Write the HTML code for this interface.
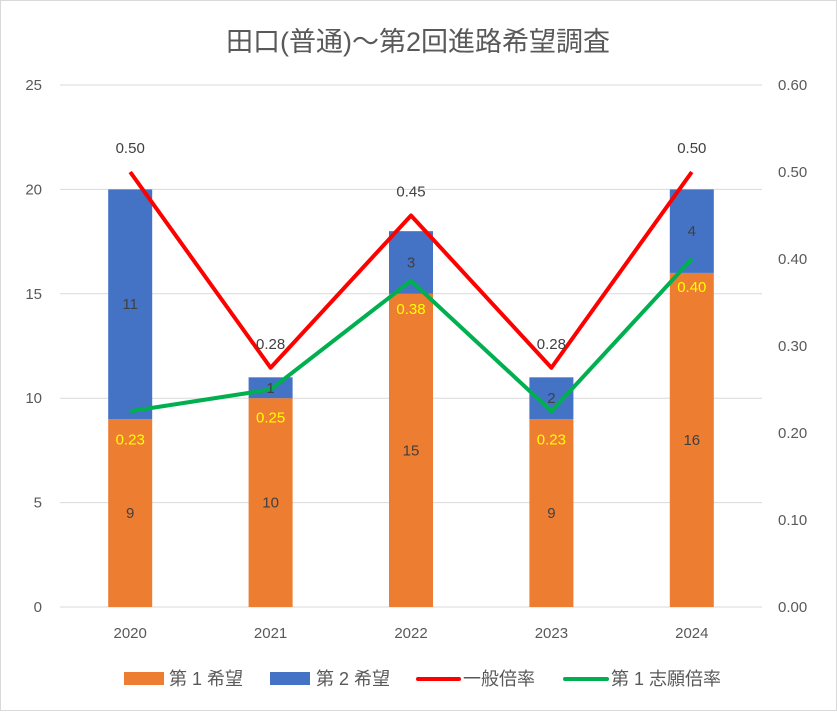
<!DOCTYPE html>
<html><head><meta charset="utf-8"><style>
body{margin:0;background:#fff;}
svg text{font-family:"Liberation Sans","Noto Sans CJK JP",sans-serif;}
</style></head><body>
<svg id="c" width="837" height="711" xmlns="http://www.w3.org/2000/svg">
<rect x="0.5" y="0.5" width="836" height="710" fill="#fff" stroke="#d9d9d9"/>
<text x="418" y="51" text-anchor="middle" font-size="27" fill="#595959">田口(普通)～第2回進路希望調査</text>
<g id="grid"></g><g id="bars"></g><g id="lines"></g><g id="labels"></g><g id="axes"></g>
<g>
<rect x="124" y="672" width="40" height="13" fill="#ed7d31"/>
<text x="169" y="685" font-size="18" fill="#595959">第 1 希望</text>
<rect x="270" y="672" width="40" height="13" fill="#4472c4"/>
<text x="316" y="685" font-size="18" fill="#595959">第 2 希望</text>
<line x1="418" y1="679" x2="459" y2="679" stroke="#ff0000" stroke-width="4" stroke-linecap="round"/>
<text x="463" y="685" font-size="18" fill="#595959">一般倍率</text>
<line x1="565" y1="679" x2="607" y2="679" stroke="#00b050" stroke-width="4" stroke-linecap="round"/>
<text x="611" y="685" font-size="18" fill="#595959">第 1 志願倍率</text>
</g>
</svg>
<script>
const categories=["2020","2021","2022","2023","2024"];
const firstChoice=[9,10,15,9,16];
const secondChoice=[11,1,3,2,4];
const generalRate=[0.50,0.275,0.45,0.275,0.50];
const firstRate=[0.225,0.25,0.375,0.225,0.40];
const leftTicks=[0,5,10,15,20,25];
const rightTicks=[0,0.1,0.2,0.3,0.4,0.5,0.6];
const NS="http://www.w3.org/2000/svg";
const L=60,R=762,T=85,B=607;
const yL=v=>B-(v/25)*(B-T);
const yR=v=>B-(v/0.6)*(B-T);
const xC=i=>L+(R-L)/categories.length*(i+0.5);
function mk(g,tag,attrs,txt){const e=document.createElementNS(NS,tag);for(const k in attrs)e.setAttribute(k,attrs[k]);if(txt!==undefined)e.textContent=txt;document.getElementById(g).appendChild(e);return e;}
leftTicks.forEach(t=>{
 const l=mk('grid','line',{x1:L,x2:R,y1:yL(t),y2:yL(t),stroke:'#d9d9d9'});
 
 
 const tx=mk('axes','text',{x:42,y:yL(t)+5,'text-anchor':'end','font-size':15,fill:'#595959'},String(t));
 
 
});
rightTicks.forEach(t=>{
 const tx=mk('axes','text',{x:778,y:yR(t)+5,'font-size':15,fill:'#595959'},t.toFixed(2));
 
 
});
const bw=44;
categories.forEach((c,i)=>{
 const x=xC(i);
 const b1=mk('bars','rect',{x:x-bw/2,y:yL(firstChoice[i]),width:bw,height:yL(0)-yL(firstChoice[i]),fill:'#ed7d31'});
 
 
 const top=firstChoice[i]+secondChoice[i];
 const b2=mk('bars','rect',{x:x-bw/2,y:yL(top),width:bw,height:yL(firstChoice[i])-yL(top),fill:'#4472c4'});
 
 
 const t1=mk('labels','text',{x:x,y:(yL(0)+yL(firstChoice[i]))/2+5,'text-anchor':'middle','font-size':15,fill:'#404040'},String(firstChoice[i]));
 
 
 const t2=mk('labels','text',{x:x,y:(yL(firstChoice[i])+yL(top))/2+5,'text-anchor':'middle','font-size':15,fill:'#404040'},String(secondChoice[i]));
 
 
 const cx=mk('axes','text',{x:x,y:638,'text-anchor':'middle','font-size':15,fill:'#595959'},c);
 
 
});
const pl=(arr)=>arr.map((v,i)=>xC(i)+','+yR(v)).join(' ');
const lr=mk('lines','polyline',{points:pl(generalRate),fill:'none',stroke:'#ff0000','stroke-width':4,'stroke-linejoin':'round'});


const lg=mk('lines','polyline',{points:pl(firstRate),fill:'none',stroke:'#00b050','stroke-width':4,'stroke-linejoin':'round'});


categories.forEach((c,i)=>{
 const a=mk('labels','text',{x:xC(i),y:yR(generalRate[i])-19,'text-anchor':'middle','font-size':15,fill:'#404040'},generalRate[i].toFixed(2));
 
 
 const b=mk('labels','text',{x:xC(i),y:yR(firstRate[i])+33,'text-anchor':'middle','font-size':15,fill:'#ffff00'},firstRate[i].toFixed(2));
 
 
});
</script>
</body></html>
